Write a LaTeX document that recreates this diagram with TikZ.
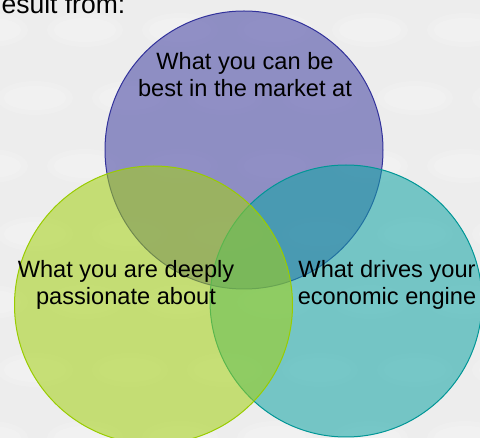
\documentclass[tikz,border=0pt]{standalone}
\usepackage{fontspec}
\setmainfont{Liberation Sans}
\usepackage{tikz}
\definecolor{bg_gray}{RGB}{237,237,237}
\definecolor{market_fill}{RGB}{65,64,162}
\definecolor{market_edge}{RGB}{50,50,155}
\definecolor{engine_fill}{RGB}{18,165,165}
\definecolor{engine_edge}{RGB}{0,150,150}
\definecolor{passion_fill}{RGB}{164,209,18}
\definecolor{passion_edge}{RGB}{153,204,0}

\begin{document}
\begin{tikzpicture}[x=1pt,y=-1pt]
    \tikzstyle{venn}=[circle, line width=1pt, fill opacity=0.55, inner sep=0pt]
    \tikzstyle{label}=[align=center, text=black, font=\fontsize{23.6}{27}\selectfont]
    \useasboundingbox (0,0) rectangle (480,438);

    % backdrop with its faint oval pattern
    \begin{scope}
      \clip (0,0) rectangle (480,438);
      \fill[bg_gray] (0,0) rectangle (480,438);
      \foreach \row in {0,...,6}
        \foreach \col in {0,...,5} {
          \fill[white, opacity=0.12]
            ({\col*95 + mod(\row,2)*45 - 10}, {\row*68 + 30}) ellipse (38pt and 17pt);
          \fill[white, opacity=0.18]
            ({\col*95 + mod(\row,2)*45 - 10}, {\row*68 + 30}) ellipse (31pt and 12pt);
        }
    \end{scope}

    \node[anchor=base west, font=\fontsize{26.5}{30}\selectfont] (head) at (-2,14) {esult from:};

    % the three sets, top one first
    \node[venn, draw=market_edge, fill=market_fill, minimum size=278pt]  (market)  at (244,150) {};
    \node[venn, draw=engine_edge, fill=engine_fill, minimum size=272pt]  (engine)  at (346,301) {};
    \node[venn, draw=passion_edge, fill=passion_fill, minimum size=278pt] (passion) at (153.5,305) {};

    \node[label, anchor=base] (market_txt)  at (245,97)  {What you can be\\best in the market at};
    \node[label, anchor=base] (passion_txt) at (126,305) {What you are deeply\\passionate about};
    \node[label, anchor=base] (engine_txt)  at (387,305) {What drives your\\economic engine};
\end{tikzpicture}
\end{document}
